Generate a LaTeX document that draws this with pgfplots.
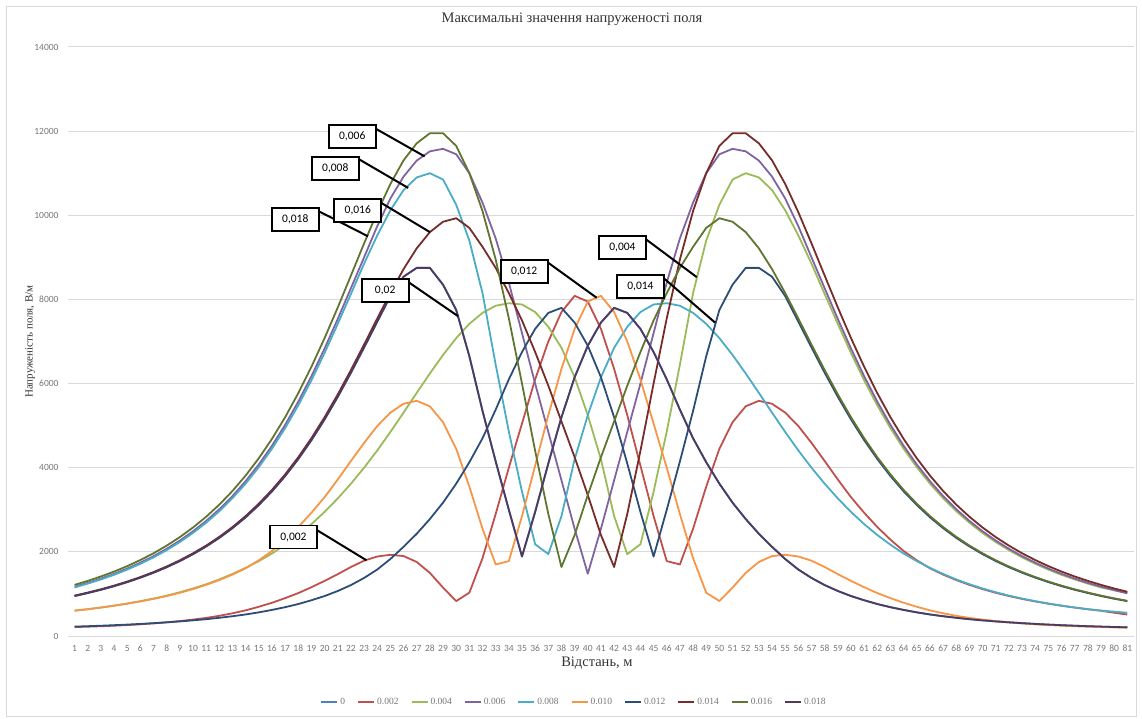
\documentclass[border=0pt]{standalone}
\usepackage{pgfplots}
\pgfplotsset{compat=1.18}
\usepackage{pgfplotstable}
\usepackage{fontspec}
\setmainfont{Liberation Serif}
\newfontfamily\carlito{Carlito}
\definecolor{c0}{HTML}{4F81BD}
\definecolor{c2}{HTML}{C0504D}
\definecolor{c4}{HTML}{9BBB59}
\definecolor{c6}{HTML}{8064A2}
\definecolor{c8}{HTML}{4BACC6}
\definecolor{c10}{HTML}{F79646}
\definecolor{c12}{HTML}{2C4D75}
\definecolor{c14}{HTML}{772C2A}
\definecolor{c16}{HTML}{5F7530}
\definecolor{c18}{HTML}{4D3B62}
\definecolor{tickgray}{HTML}{767676}
\definecolor{gridgray}{HTML}{D9D9D9}

\pgfplotstableread{
x s0 s2 s4 s6 s8 s10 s12 s14 s16 s18
1 950 213 605 1172 1154 600 223 960 1215 950
2 1022 222 637 1264 1245 636 233 1032 1310 1022
3 1099 232 677 1365 1344 676 244 1110 1415 1099
4 1185 245 722 1477 1454 720 257 1197 1531 1185
5 1281 260 772 1603 1578 768 271 1294 1661 1281
6 1387 278 828 1743 1716 822 287 1401 1806 1387
7 1505 300 890 1898 1869 882 305 1520 1967 1505
8 1635 325 960 2073 2041 950 325 1652 2148 1635
9 1782 355 1040 2269 2233 1027 347 1800 2351 1782
10 1945 390 1130 2489 2450 1115 372 1965 2579 1945
11 2129 430 1230 2736 2693 1215 400 2150 2835 2129
12 2333 480 1345 3014 2967 1330 433 2357 3123 2333
13 2564 540 1475 3327 3276 1460 470 2590 3448 2564
14 2822 610 1620 3681 3623 1610 512 2851 3814 2822
15 3114 695 1780 4077 4014 1800 562 3145 4225 3114
16 3438 790 1960 4522 4452 2020 620 3473 4686 3438
17 3802 900 2170 5018 4940 2290 685 3840 5200 3802
18 4207 1020 2400 5570 5483 2590 760 4249 5772 4207
19 4656 1160 2660 6176 6080 2930 850 4703 6400 4656
20 5149 1310 2950 6834 6728 3300 950 5201 7082 5149
21 5685 1470 3270 7536 7419 3720 1070 5742 7809 5685
22 6258 1640 3620 8267 8130 4160 1210 6321 8567 6258
23 6858 1790 4000 9000 8850 4590 1380 6927 9332 6858
24 7471 1890 4410 9740 9520 4990 1580 7546 10071 7471
25 8080 1930 4850 10400 10120 5310 1830 8153 10745 8080
26 8540 1900 5310 10920 10600 5520 2120 8721 11306 8540
27 8750 1760 5780 11300 10900 5590 2430 9215 11711 8750
28 8750 1500 6240 11520 11000 5460 2780 9600 11950 8750
29 8350 1150 6680 11580 10850 5080 3170 9846 11950 8350
30 7750 830 7080 11450 10250 4450 3620 9930 11650 7750
31 6650 1030 7420 11000 9400 3550 4130 9700 11000 6650
32 5350 1850 7680 10300 8150 2550 4700 9250 10100 5350
33 4150 2900 7850 9450 6450 1700 5380 8750 8950 4150
34 3000 4000 7910 8400 4860 1780 6100 8150 7550 3000
35 1890 5050 7880 7200 3430 2850 6750 7500 6000 1890
36 2950 6100 7700 6000 2180 4050 7300 6750 4400 2950
37 4100 7000 7350 4850 1945 5250 7680 5950 2900 4100
38 5200 7700 6850 3700 2850 6350 7800 5100 1640 5200
39 6150 8085 6150 2550 4200 7300 7450 4250 2400 6150
40 6900 7950 5250 1480 5250 7950 6900 3350 3350 6900
41 7450 7300 4200 2550 6150 8085 6150 2400 4250 7450
42 7800 6350 2850 3700 6850 7700 5200 1640 5100 7800
43 7680 5250 1945 4850 7350 7000 4100 2900 5950 7680
44 7300 4050 2180 6000 7700 6100 2950 4400 6750 7300
45 6750 2850 3430 7200 7880 5050 1890 6000 7500 6750
46 6100 1780 4860 8400 7910 4000 3000 7550 8150 6100
47 5380 1700 6450 9450 7850 2900 4150 8950 8750 5380
48 4700 2550 8150 10300 7680 1850 5350 10100 9250 4700
49 4130 3550 9400 11000 7420 1030 6650 11000 9700 4130
50 3620 4450 10250 11450 7080 830 7750 11650 9930 3620
51 3170 5080 10850 11580 6680 1150 8350 11950 9846 3170
52 2780 5460 11000 11520 6240 1500 8750 11950 9600 2780
53 2430 5590 10900 11300 5780 1760 8750 11711 9215 2430
54 2120 5520 10600 10920 5310 1900 8540 11306 8721 2120
55 1830 5310 10120 10400 4850 1930 8080 10745 8153 1830
56 1580 4990 9520 9740 4410 1890 7471 10071 7546 1580
57 1380 4590 8850 9000 4000 1790 6858 9332 6927 1380
58 1210 4160 8130 8267 3620 1640 6258 8567 6321 1210
59 1070 3720 7419 7536 3270 1470 5685 7809 5742 1070
60 950 3300 6728 6834 2950 1310 5149 7082 5201 950
61 850 2930 6080 6176 2660 1160 4656 6400 4703 850
62 760 2590 5483 5570 2400 1020 4207 5772 4249 760
63 685 2290 4940 5018 2170 900 3802 5200 3840 685
64 620 2020 4452 4522 1960 790 3438 4686 3473 620
65 562 1800 4014 4077 1780 695 3114 4225 3145 562
66 512 1610 3623 3681 1620 610 2822 3814 2851 512
67 470 1460 3276 3327 1475 540 2564 3448 2590 470
68 433 1330 2967 3014 1345 480 2333 3123 2357 433
69 400 1215 2693 2736 1230 430 2129 2835 2150 400
70 372 1115 2450 2489 1130 390 1945 2579 1965 372
71 347 1027 2233 2269 1040 355 1782 2351 1800 347
72 325 950 2041 2073 960 325 1635 2148 1652 325
73 305 882 1869 1898 890 300 1505 1967 1520 305
74 287 822 1716 1743 828 278 1387 1806 1401 287
75 271 768 1578 1603 772 260 1281 1661 1294 271
76 257 720 1454 1477 722 245 1185 1531 1197 257
77 244 676 1344 1365 677 232 1099 1415 1110 244
78 233 636 1245 1264 637 222 1022 1310 1032 233
79 223 600 1154 1172 605 213 950 1215 960 223
80 214 553 1090 1089 578 205 886 1129 895 214
81 206 510 1030 1014 553 198 828 1051 836 206
}\data

\tikzset{callout/.style={draw=black, line width=1.8pt, fill=white, minimum width=47pt, minimum height=23pt, inner sep=0pt, font=\carlito\fontsize{11.5}{12}\selectfont},
leader/.style={draw=black, line width=2pt}}

\begin{document}
\begin{tikzpicture}[x=1pt,y=1pt]
\useasboundingbox (0,0) rectangle (1142,718);
\draw[color=gridgray, line width=1pt] (6.5,2) rectangle (1136,711.5);
\begin{axis}[
  at={(68pt,82pt)}, anchor=south west,
  scale only axis, width=1066pt, height=589pt,
  xmin=0.5, xmax=81.5, ymin=0, ymax=14000,
  xtick={1,...,81}, ytick={0,2000,4000,6000,8000,10000,12000,14000},
  yticklabels={0,2000,4000,6000,8000,10000,12000,14000},
  scaled y ticks=false,
  major tick length=0pt,
  axis line style={draw=none},
  ymajorgrids, grid style={color=gridgray, line width=1pt},
  tick label style={font=\carlito\fontsize{9.5}{10}\selectfont, text=tickgray},
  /pgf/number format/assume math mode=true,
  xticklabel style={anchor=base, yshift=-15pt},
  yticklabel style={xshift=-6pt},
  clip mode=individual,
  title={Максимальні значення напруженості поля},
  title style={at={(axis description cs:0.4728,1.0374)}, anchor=center, font=\fontsize{14.5}{16}\selectfont, text=black!80},
  xlabel={Відстань, м},
  xlabel style={at={(axis description cs:0.4962,-0.0458)}, anchor=center, font=\fontsize{14.5}{16}\selectfont, text=black!80},
  ylabel={Напруженість поля, В/м},
  ylabel style={at={(axis description cs:-0.0356,0.5)}, anchor=center, font=\fontsize{11}{13}\selectfont, text=black!80},
  legend columns=10,
  legend cell align=left,
  legend style={at={(axis description cs:0.4747,-0.112)}, anchor=center, draw=none, fill=none, font=\fontsize{9.5}{10}\selectfont, text=tickgray, /tikz/every even column/.append style={column sep=10pt}},
  legend image code/.code={\draw[#1, line width=2pt] (0pt,0pt) -- (16pt,0pt);},
  every axis plot/.append style={line width=1.8pt, line join=round},
]
\addplot[c0] table[x=x,y=s0]{\data};
\addplot[c2] table[x=x,y=s2]{\data};
\addplot[c4] table[x=x,y=s4]{\data};
\addplot[c6] table[x=x,y=s6]{\data};
\addplot[c8] table[x=x,y=s8]{\data};
\addplot[c10] table[x=x,y=s10]{\data};
\addplot[c12] table[x=x,y=s12]{\data};
\addplot[c14] table[x=x,y=s14]{\data};
\addplot[c16] table[x=x,y=s16]{\data};
\addplot[c18] table[x=x,y=s18]{\data};
\legend{0,0.002,0.004,0.006,0.008,0.010,0.012,0.014,0.016,0.018}

\draw[leader] (axis cs:23.94,12048) -- (axis cs:27.6,11400);
\node[callout] at (axis cs:22.10,11870) {0,006};
\draw[leader] (axis cs:22.60,11334) -- (axis cs:26.35,10650);
\node[callout] at (axis cs:20.81,11107) {0,008};
\draw[leader] (axis cs:19.56,10095) -- (axis cs:23.3,9500);
\node[callout] at (axis cs:17.77,9893) {0,018};
\draw[leader] (axis cs:24.35,10286) -- (axis cs:28.0,9600);
\node[callout] at (axis cs:22.52,10119) {0,016};
\draw[leader] (axis cs:26.40,8405) -- (axis cs:30.15,7600);
\node[callout] at (axis cs:24.60,8203) {0,02};
\draw[leader] (axis cs:36.95,8881) -- (axis cs:40.67,8040);
\node[callout] at (axis cs:35.16,8667) {0,012};
\draw[leader] (axis cs:44.42,9429) -- (axis cs:48.28,8530);
\node[callout] at (axis cs:42.63,9231) {0,004};
\draw[leader] (axis cs:45.79,8500) -- (axis cs:49.67,7450);
\node[callout] at (axis cs:44.0,8310) {0,014};
\draw[leader] (axis cs:19.38,2524) -- (axis cs:23.18,1800);
\node[callout] at (axis cs:17.63,2352) {0,002};
\end{axis}
\end{tikzpicture}
\end{document}
